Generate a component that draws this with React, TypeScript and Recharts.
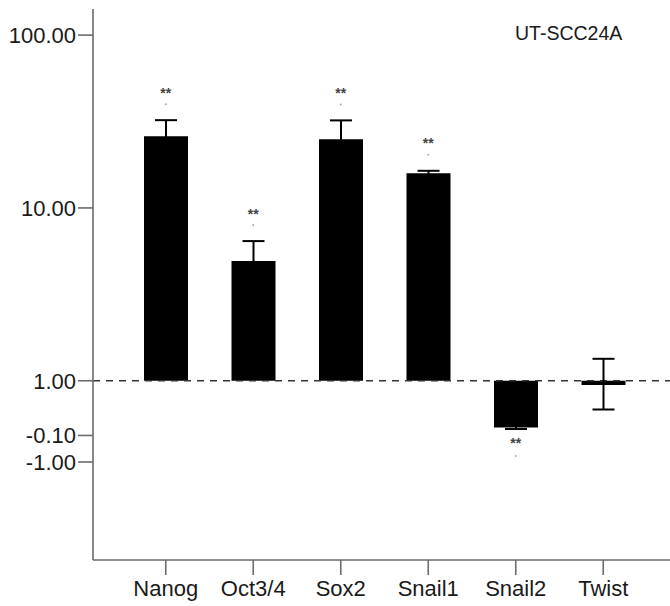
import {
  ComposedChart,
  Bar,
  Line,
  XAxis,
  YAxis,
  ErrorBar,
  ReferenceLine,
} from 'recharts';

const FONT = '"Liberation Sans", Arial, sans-serif';

// fold change relative to control
const genes = ['Nanog', 'Oct3/4', 'Sox2', 'Snail1', 'Snail2', 'Twist'];
const foldChange = [26.0, 4.93, 25.0, 15.9, 0.537, 0.944];
const errLow = [21.0, 3.8, 19.5, 15.4, 0.526, 0.682];
const errHigh = [32.2, 6.43, 32.1, 16.4, 0.55, 1.34];
const significance = ['**', '**', '**', '**', '**', ''];

// axis ticks as printed on the original (bottom two are odd labels)
const yTickAt = [2, 1, 0, -0.3165, -0.47];
const yTickLabels = ['100.00', '10.00', '1.00', '-0.10', '-1.00'];

const data = genes.map((name, i) => {
  const t = Math.log10(foldChange[i]);
  const lo = Math.log10(errLow[i]);
  const hi = Math.log10(errHigh[i]);
  return {
    name,
    value: t,
    err: [t - lo, hi - t],
    sig: significance[i],
    up: t >= 0,
    mark: significance[i] ? (t >= 0 ? hi : lo) : null,
  };
});

const tickLabel = (v: number) => {
  const i = yTickAt.indexOf(v);
  return i >= 0 ? yTickLabels[i] : '';
};

const renderMark = (props: any) => {
  const { cx, cy, index, payload } = props;
  if (!payload || !payload.sig || cy == null) return <g key={`m-${index}`} />;
  const starY = payload.up ? cy - 31 : cy + 11;
  const dotY = payload.up ? cy - 16 : cy + 27;
  return (
    <g key={`m-${index}`}>
      <text
        x={cx}
        y={starY + 8.5}
        textAnchor="middle"
        fontSize={14}
        fontWeight="bold"
        fontFamily={FONT}
        fill="#444"
      >
        {payload.sig}
      </text>
      <circle cx={cx} cy={dotY} r={1} fill="#aaa" />
    </g>
  );
};

const axisColor = '#6b6b6b';

const App = () => (
  <div style={{ position: 'absolute', left: 0, top: 0, width: 670, height: 606, background: '#fff' }}>
    <ComposedChart
      width={670}
      height={606}
      data={data}
      margin={{ top: 9, right: 0, bottom: 16, left: 0 }}
    >
      <XAxis
        dataKey="name"
        height={30}
        padding={{ left: 29, right: 23 }}
        tickSize={15}
        tickMargin={5}
        axisLine={{ stroke: axisColor, strokeWidth: 1.6 }}
        tickLine={{ stroke: axisColor, strokeWidth: 1.6 }}
        tick={{ fill: '#1a1a1a', fontSize: 22, fontFamily: FONT }}
        interval={0}
      />
      <YAxis
        type="number"
        width={93}
        domain={[-1.037, 2.151]}
        allowDataOverflow
        ticks={yTickAt}
        interval={0}
        tickFormatter={tickLabel}
        tickSize={15}
        tickMargin={2}
        axisLine={{ stroke: axisColor, strokeWidth: 1.6 }}
        tickLine={{ stroke: axisColor, strokeWidth: 1.6 }}
        tick={{ fill: '#1a1a1a', fontSize: 22, fontFamily: FONT }}
      />
      <ReferenceLine y={0} stroke="#333" strokeDasharray="7 6" strokeWidth={1.5} />
      <Bar dataKey="value" fill="#000" barSize={44} isAnimationActive={false}>
        <ErrorBar dataKey="err" width={11} strokeWidth={2} stroke="#000" />
      </Bar>
      <Line
        dataKey="mark"
        stroke="none"
        dot={renderMark}
        activeDot={false}
        isAnimationActive={false}
        legendType="none"
      />
    </ComposedChart>
    <div
      style={{
        position: 'absolute',
        left: 515,
        top: 23,
        fontSize: 19.5,
        lineHeight: '20px',
        fontFamily: FONT,
        color: '#1a1a1a',
      }}
    >
      UT-SCC24A
    </div>
  </div>
);

export default App;
